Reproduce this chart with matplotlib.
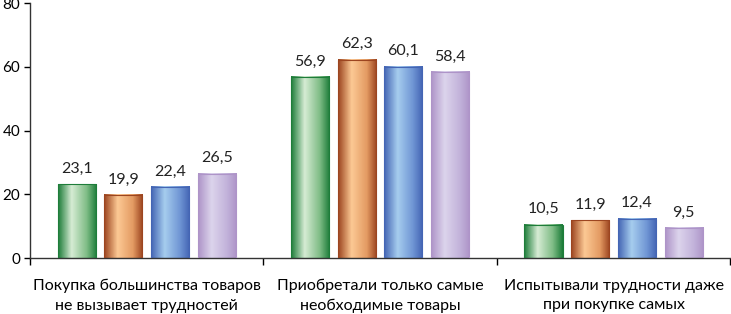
import numpy as np
import matplotlib
matplotlib.use('Agg')
from matplotlib import pyplot as plt
from matplotlib.colors import LinearSegmentedColormap

categories = ['Покупка большинства товаров\nне вызывает трудностей',
              'Приобретали только самые\nнеобходимые товары',
              'Испытывали трудности даже\nпри покупке самых']
series_1 = [23.1, 56.9, 10.5]
series_2 = [19.9, 62.3, 11.9]
series_3 = [22.4, 60.1, 12.4]
series_4 = [26.5, 58.4, 9.5]
yticks = [0, 20, 40, 60, 80]

# (edge, light, mid) per series
palette = [
    ('#1e7d3a', '#d6ecd4', '#7dbb84'),
    ('#9c4520', '#fcc994', '#e39a62'),
    ('#4465b4', '#a6cdee', '#6f95d4'),
    ('#ae94c8', '#dcd4ec', '#c2b2da'),
]

plt.rcParams['font.family'] = ['Lato', 'DejaVu Sans']

fig = plt.figure(figsize=(7.31, 3.14), dpi=100)
ax = fig.add_axes([0.041, 0.178, 0.958, 0.812])

x = np.arange(len(categories))
width = 0.163
step = 0.2
all_series = [series_1, series_2, series_3, series_4]

for i, vals in enumerate(all_series):
    edge, light, mid = palette[i]
    cmap = LinearSegmentedColormap.from_list('g%d' % i,
        [(0, edge), (0.35, light), (0.75, mid), (1, edge)])
    grad = np.linspace(0, 1, 64).reshape(1, -1)
    bars = ax.bar(x + (i - 1.5) * step, vals, width, facecolor='none',
                  edgecolor=edge, linewidth=0.8, zorder=3)
    for b, v in zip(bars, vals):
        x0, w, h = b.get_x(), b.get_width(), b.get_height()
        ax.imshow(grad, cmap=cmap, aspect='auto', extent=(x0, x0 + w, 0, h),
                  zorder=2, interpolation='bilinear')
        ax.text(x0 + w / 2, h + 2.6, ('%.1f' % v).replace('.', ','),
                ha='center', va='bottom', fontsize=11.5, color='#222222')

ax.set_xlim(-0.5, 2.5)
ax.set_ylim(0, 80)
ax.set_yticks(yticks)
ax.tick_params(axis='y', labelsize=11, length=4, width=1, pad=3)
ax.set_xticks(x)
ax.set_xticklabels(categories, fontsize=11.5, linespacing=1.5)
ax.tick_params(axis='x', length=0, pad=15)
ax.set_xticks([-0.5, 0.5, 1.5, 2.5], minor=True)
ax.tick_params(axis='x', which='minor', length=5, width=1)
for s in ['top', 'right']:
    ax.spines[s].set_visible(False)
for s in ['left', 'bottom']:
    ax.spines[s].set_color('#333333')
    ax.spines[s].set_linewidth(1)

fig.savefig('out.png', dpi=100)
